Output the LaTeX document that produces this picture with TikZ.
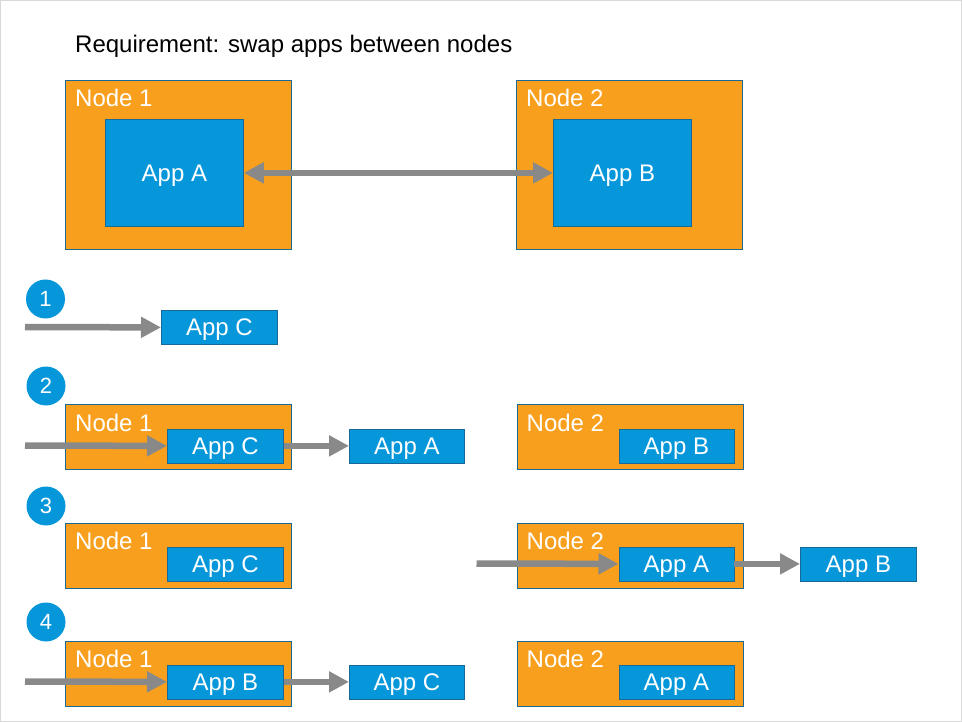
\documentclass[tikz,border=0pt]{standalone}
\usepackage{fontspec}
\setmainfont{Liberation Sans}
\usetikzlibrary{arrows.meta}

\definecolor{hostorange}{RGB}{248,160,30}
\definecolor{appblue}{RGB}{6,150,218}
\definecolor{edgeblue}{RGB}{25,105,150}
\definecolor{arrowgrey}{RGB}{137,137,137}
\definecolor{framegrey}{RGB}{217,217,217}

\begin{document}
\begin{tikzpicture}[x=1pt, y=-1pt,
    host/.style={rectangle, fill=hostorange, draw=edgeblue, line width=0.8pt, anchor=north west, inner sep=0pt, minimum width=226pt},
    app/.style={rectangle, fill=appblue, draw=edgeblue, line width=0.8pt, anchor=north west, inner sep=0pt, text height=17.2pt, text depth=0pt, text=white, font=\fontsize{24}{28}\selectfont},
    hostname/.style={anchor=base west, inner sep=0pt, text=white, font=\fontsize{24}{28}\selectfont},
    stepnum/.style={circle, fill=appblue, inner sep=0pt, minimum size=39pt, text height=15.8pt, text depth=0pt, text=white, font=\fontsize{22}{26}\selectfont},
    move/.style={line width=6.5pt, arrowgrey, -{Triangle[length=20pt, width=20pt]}},
    swap/.style={line width=6.5pt, arrowgrey, {Triangle[length=20pt, width=20pt]}-{Triangle[length=20pt, width=20pt]}}
    ]
    \useasboundingbox (0,0) rectangle (962,722);
    \draw[framegrey, line width=1pt] (0.5,0.5) rectangle (961.5,721.5);

    \node[anchor=base west, inner sep=0pt, font=\fontsize{24}{28}\selectfont] (title) at (75,53) {Requirement: swap apps between nodes};

    % requirement
    \node[host, minimum height=169pt] (n1) at (65,80) {};
    \node[hostname] (n1name) at ([xshift=10pt, yshift=-27pt]n1.north west) {Node 1};
    \node[app, minimum width=138pt, minimum height=107pt] (appA) at (105,119) {App A};
    \node[host, minimum height=169pt] (n2) at (516,80) {};
    \node[hostname] (n2name) at ([xshift=10pt, yshift=-27pt]n2.north west) {Node 2};
    \node[app, minimum width=138pt, minimum height=107pt] (appB) at (553,119) {App B};
    \draw[swap] (appA.east) -- (appB.west);

    % step 1
    \node[stepnum] (s1) at (45.5,299) {1};
    \node[app, minimum width=116pt, minimum height=34pt] (s1appC) at (161,310) {App C};
    \coordinate (s1in) at (25,327);
    \draw[move] (s1in) -- (s1appC.west);

    % step 2
    \node[stepnum] (s2) at (46,386) {2};
    \node[host, minimum height=65pt] (s2n1) at (65,404) {};
    \node[hostname] (s2n1name) at ([xshift=10pt, yshift=-27pt]s2n1.north west) {Node 1};
    \node[app, minimum width=116pt, minimum height=34pt] (s2appC) at (167,428.5) {App C};
    \node[app, minimum width=115pt, minimum height=34pt] (s2appA) at (349,428.5) {App A};
    \node[host, minimum height=65pt] (s2n2) at (516.5,404) {};
    \node[hostname] (s2n2name) at ([xshift=10pt, yshift=-27pt]s2n2.north west) {Node 2};
    \node[app, minimum width=115pt, minimum height=34pt] (s2appB) at (618.5,428.5) {App B};
    \coordinate (s2in) at (25,445.5);
    \draw[move] (s2in) -- (s2appC.west);
    \draw[move] (s2appC.east) -- (s2appA.west);

    % step 3
    \node[stepnum] (s3) at (46,506) {3};
    \node[host, minimum height=65pt] (s3n1) at (65,522.5) {};
    \node[hostname] (s3n1name) at ([xshift=10pt, yshift=-27pt]s3n1.north west) {Node 1};
    \node[app, minimum width=116pt, minimum height=34pt] (s3appC) at (167,546.5) {App C};
    \node[host, minimum height=65pt] (s3n2) at (516.5,522.5) {};
    \node[hostname] (s3n2name) at ([xshift=10pt, yshift=-27pt]s3n2.north west) {Node 2};
    \node[app, minimum width=115pt, minimum height=34pt] (s3appA) at (618.5,546.5) {App A};
    \node[app, minimum width=116pt, minimum height=34pt] (s3appB) at (800,546.5) {App B};
    \coordinate (s3in) at (476.5,563.5);
    \draw[move] (s3in) -- (s3appA.west);
    \draw[move] (s3appA.east) -- (s3appB.west);

    % step 4
    \node[stepnum] (s4) at (46,622) {4};
    \node[host, minimum height=65pt] (s4n1) at (65,640.5) {};
    \node[hostname] (s4n1name) at ([xshift=10pt, yshift=-27pt]s4n1.north west) {Node 1};
    \node[app, minimum width=116pt, minimum height=34pt] (s4appB) at (167,664.5) {App B};
    \node[app, minimum width=115pt, minimum height=34pt] (s4appC) at (349,664.5) {App C};
    \node[host, minimum height=65pt] (s4n2) at (516.5,640.5) {};
    \node[hostname] (s4n2name) at ([xshift=10pt, yshift=-27pt]s4n2.north west) {Node 2};
    \node[app, minimum width=115pt, minimum height=34pt] (s4appA) at (618.5,664.5) {App A};
    \coordinate (s4in) at (25,681.5);
    \draw[move] (s4in) -- (s4appB.west);
    \draw[move] (s4appB.east) -- (s4appC.west);

\end{tikzpicture}
\end{document}
